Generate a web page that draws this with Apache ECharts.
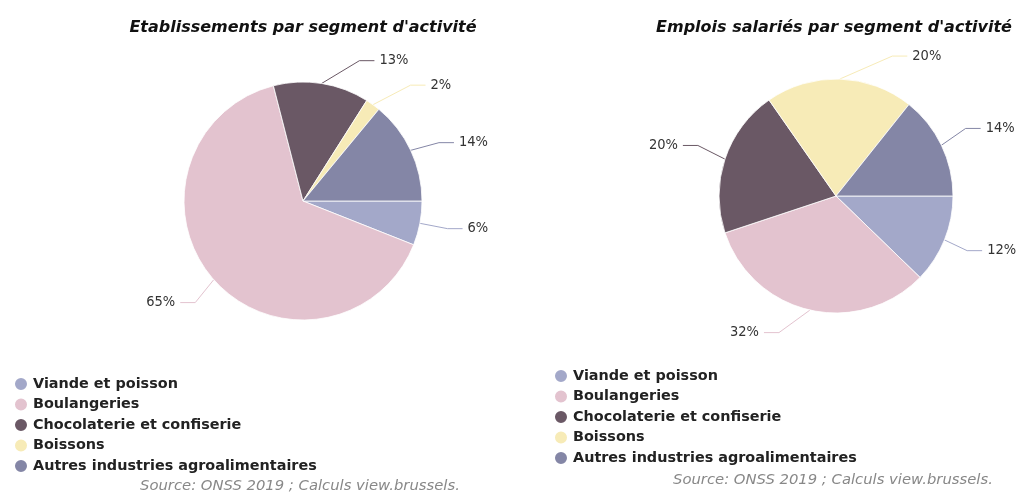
<!DOCTYPE html>
<html>
<head>
<meta charset="utf-8">
<script src="https://cdn.jsdelivr.net/npm/echarts@6/dist/echarts.min.js"></script>
<style>
  html, body { margin: 0; padding: 0; background: #fff; }
  #chart { width: 1021px; height: 499px; }
</style>
</head>
<body>
<div id="chart"></div>
<script>
// catégories et parts (%)
const categories = ['Viande et poisson', 'Boulangeries', 'Chocolaterie et confiserie', 'Boissons', 'Autres industries agroalimentaires']
const etablissementsPct = [6, 65, 13, 2, 14]
const emploisPct = [12, 32, 20, 20, 14]
const sliceColors = ['#a3a8c9', '#e3c3cf', '#6a5865', '#f7ebb7', '#8486a6']

const titleLeft = "Etablissements par segment d'activité"
const titleRight = "Emplois salariés par segment d'activité"
const sourceText = 'Source: ONSS 2019 ; Calculs view.brussels.'

// petits décalages des étiquettes pour suivre la mise en page d'origine
const leftLabelShift = [[10, 2], [-5, 11], [35, -5], [27, -5], [12, 0]]
const rightLabelShift = [[6, 4], [-27, 5], [-10, -8], [52, -5], [8, -9]]

const toData = values => categories.map((name, i) => ({
  name,
  value: values[i],
  itemStyle: { color: sliceColors[i] }
}))

const labelFont = '"DejaVu Sans Condensed", "Liberation Sans Narrow", sans-serif'

// série camembert commune
const pieSeries = (values, center, radius, shifts) => ({
  type: 'pie',
  center,
  radius,
  startAngle: 0,
  clockwise: true,
  silent: true,
  data: toData(values),
  itemStyle: { borderColor: '#fff', borderWidth: 0.8 },
  label: {
    formatter: '{c}%',
    color: '#333',
    fontSize: 14.5,
    fontFamily: labelFont
  },
  labelLine: {
    length: 18,
    length2: 15,
    lineStyle: { width: 1 }
  },
  labelLayout: params => {
    const [dx, dy] = shifts[params.dataIndex]
    const pts = params.labelLinePoints
    const out = { dx, dy }
    if (pts && pts.length === 3) {
      out.labelLinePoints = [
        pts[0].slice(),
        [pts[1][0] + dx, pts[1][1] + dy],
        [pts[2][0] + dx, pts[2][1] + dy]
      ]
    }
    return out
  }
})

const legendCommon = {
  orient: 'vertical',
  icon: 'circle',
  itemWidth: 14,
  itemHeight: 14,
  itemGap: 4.5,
  padding: 0,
  selectedMode: false,
  data: categories,
  textStyle: {
    fontSize: 14.4,
    fontWeight: 'bold',
    color: '#222',
    fontFamily: '"DejaVu Sans", sans-serif'
  }
}

const chart = echarts.init(document.getElementById('chart'))

chart.setOption({
  animation: false,
  backgroundColor: '#fff',
  legend: [
    Object.assign({ left: 13, top: 376 }, legendCommon),
    Object.assign({ left: 553, top: 368 }, legendCommon)
  ],
  graphic: [
    {
      type: 'text', x: 303, y: 28,
      style: { text: titleLeft, align: 'center', verticalAlign: 'middle', fill: '#111',
        font: 'italic bold 16px "DejaVu Sans", sans-serif' }
    },
    {
      type: 'text', x: 834, y: 28,
      style: { text: titleRight, align: 'center', verticalAlign: 'middle', fill: '#111',
        font: 'italic bold 16px "DejaVu Sans", sans-serif' }
    },
    {
      type: 'text', x: 140, y: 486,
      style: { text: sourceText, align: 'left', verticalAlign: 'middle', fill: '#888',
        font: 'italic 14.8px "DejaVu Sans", sans-serif' }
    },
    {
      type: 'text', x: 673, y: 480,
      style: { text: sourceText, align: 'left', verticalAlign: 'middle', fill: '#888',
        font: 'italic 14.8px "DejaVu Sans", sans-serif' }
    }
  ],
  series: [
    pieSeries(etablissementsPct, [303, 201], 119, leftLabelShift),
    pieSeries(emploisPct, [836, 196], 117, rightLabelShift)
  ]
})
</script>
</body>
</html>
